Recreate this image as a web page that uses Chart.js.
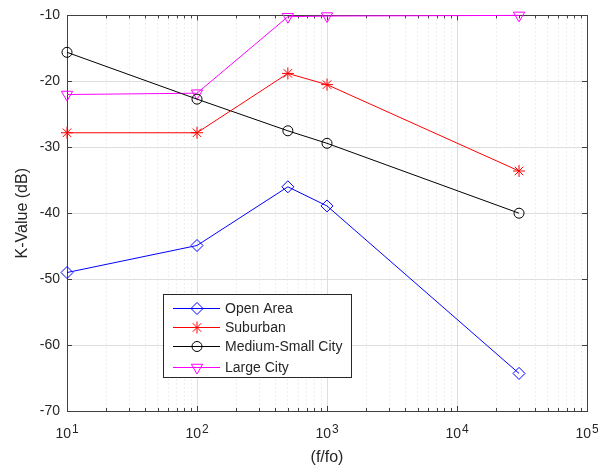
<!DOCTYPE html>
<html>
<head>
<meta charset="utf-8">
<script src="https://cdn.jsdelivr.net/npm/chart.js@4.4.1/dist/chart.umd.min.js"></script>
<style>
  html, body { margin: 0; padding: 0; background: #fff; }
  #wrap { width: 598px; height: 468px; position: relative; }
</style>
</head>
<body>
<div id="wrap"><canvas id="myChart"></canvas></div>
<script>
// datos
const freqs = [10, 100, 500, 1000, 30000];
const openArea = [-49, -44.9, -36, -38.9, -64.3];
const suburban = [-27.8, -27.8, -18.8, -20.5, -33.6];
const mediumSmallCity = [-15.6, -22.7, -27.5, -29.4, -40];
const largeCity = [-22, -21.8, -10.2, -10.1, -10];
const xExponents = [1, 2, 3, 4, 5];
const yTicks = [-70, -60, -50, -40, -30, -20, -10];

const FONT = "'Liberation Sans', Arial, Helvetica, sans-serif";
const TXT = '#262626';

// ticks del eje log: 1..9 x 10^n
const xTickValues = [];
xExponents.forEach(function (e, i) {
    const base = Math.pow(10, e);
    if (i === xExponents.length - 1) { xTickValues.push(base); return; }
    for (let s = 1; s <= 9; s++) xTickValues.push(s * base);
});
const isMajor = v => Math.abs(Math.log10(v) - Math.round(Math.log10(v))) < 1e-9;

const series = [
    { label: 'Open Area', data: openArea, color: '#0000ff', style: 'rectRot', radius: 6, rot: 0 },
    { label: 'Suburban', data: suburban, color: '#ff0000', style: 'star', radius: 6, rot: 0 },
    { label: 'Medium-Small City', data: mediumSmallCity, color: '#000000', style: 'circle', radius: 5, rot: 0 },
    { label: 'Large City', data: largeCity, color: '#ff00ff', style: 'triangle', radius: 6.5, rot: 180 }
];

// marco, marcas interiores, etiquetas 10^n y leyenda
const framePlugin = {
    id: 'framePlugin',
    beforeDatasetsDraw(chart) {
        const { ctx, chartArea: a, scales } = chart;
        ctx.save();
        ctx.strokeStyle = '#404040';
        ctx.lineWidth = 1;
        ctx.strokeRect(Math.round(a.left) + 0.5, Math.round(a.top) + 0.5,
            Math.round(a.right - a.left), Math.round(a.bottom - a.top));
        ctx.beginPath();
        xTickValues.forEach(function (v) {
            const x = Math.round(scales.x.getPixelForValue(v)) + 0.5;
            const len = isMajor(v) ? 5 : 3;
            ctx.moveTo(x, a.bottom); ctx.lineTo(x, a.bottom - len);
            ctx.moveTo(x, a.top); ctx.lineTo(x, a.top + len);
        });
        yTicks.forEach(function (v) {
            const y = Math.round(scales.y.getPixelForValue(v)) + 0.5;
            ctx.moveTo(a.left, y); ctx.lineTo(a.left + 5, y);
            ctx.moveTo(a.right, y); ctx.lineTo(a.right - 5, y);
        });
        ctx.stroke();
        ctx.restore();
    },
    afterDraw(chart) {
        const { ctx, chartArea: a, scales } = chart;
        ctx.save();
        // etiquetas del eje x con exponente
        ctx.fillStyle = TXT;
        ctx.textBaseline = 'alphabetic';
        ctx.textAlign = 'left';
        xExponents.forEach(function (e) {
            const x = scales.x.getPixelForValue(Math.pow(10, e));
            ctx.font = '14px ' + FONT;
            const w1 = ctx.measureText('10').width;
            ctx.font = '12px ' + FONT;
            const w2 = ctx.measureText(String(e)).width;
            const x0 = x - (w1 + w2 + 1) / 2;
            ctx.font = '14px ' + FONT;
            ctx.fillText('10', x0, a.bottom + 27);
            ctx.font = '12px ' + FONT;
            ctx.fillText(String(e), x0 + w1 + 1, a.bottom + 22);
        });

        // leyenda
        const lx = 163, ly = 294, lw = 188, lh = 83;
        ctx.fillStyle = '#ffffff';
        ctx.fillRect(lx, ly, lw, lh);
        ctx.strokeStyle = '#262626';
        ctx.lineWidth = 1;
        ctx.strokeRect(lx + 0.5, ly + 0.5, lw, lh);
        const rows = [308, 327, 346, 367];
        series.forEach(function (s, i) {
            const y = rows[i];
            ctx.strokeStyle = s.color;
            ctx.lineWidth = 1;
            ctx.beginPath();
            ctx.moveTo(173, y + 0.5); ctx.lineTo(220, y + 0.5);
            ctx.stroke();
            ctx.fillStyle = 'rgba(0,0,0,0)';
            Chart.helpers.drawPoint(ctx, {
                pointStyle: s.style, radius: s.radius, rotation: s.rot, borderWidth: 1
            }, 197, y + 0.5);
            ctx.fillStyle = TXT;
            ctx.font = '14px ' + FONT;
            ctx.textAlign = 'left';
            ctx.textBaseline = 'middle';
            ctx.fillText(s.label, 225, y + 1);
        });
        ctx.restore();
    }
};

document.addEventListener('DOMContentLoaded', function () {
    const ctx = document.getElementById('myChart').getContext('2d');

    new Chart(ctx, {
        type: 'line',
        data: {
            datasets: series.map(function (s) {
                return {
                    label: s.label,
                    data: freqs.map((f, i) => ({ x: f, y: s.data[i] })),
                    borderColor: s.color,
                    backgroundColor: 'rgba(0,0,0,0)',
                    borderWidth: 1,
                    pointStyle: s.style,
                    pointRadius: s.radius,
                    pointRotation: s.rot,
                    pointBorderColor: s.color,
                    pointBackgroundColor: 'rgba(0,0,0,0)',
                    pointBorderWidth: 1,
                    fill: false,
                    tension: 0,
                    clip: false
                };
            })
        },
        plugins: [framePlugin],
        options: {
            responsive: true,
            maintainAspectRatio: false,
            animation: false,
            layout: { padding: { left: 0, top: 11, right: 11, bottom: 0 } },
            plugins: {
                legend: { display: false },
                tooltip: { enabled: false }
            },
            scales: {
                x: {
                    type: 'logarithmic',
                    min: 10,
                    max: 100000,
                    afterBuildTicks: function (scale) {
                        scale.ticks = xTickValues.map(v => ({ value: v, major: isMajor(v) }));
                    },
                    afterFit: function (scale) { scale.height = 57; },
                    ticks: { autoSkip: false, callback: () => '', maxRotation: 0 },
                    grid: {
                        drawTicks: false,
                        color: '#dedede',
                        lineWidth: 1
                    },
                    border: {
                        display: false,
                        dash: function (c) {
                            return (c.tick && !isMajor(c.tick.value)) ? [1, 3] : [];
                        }
                    },
                    title: {
                        display: true,
                        text: '(f/fo)',
                        color: TXT,
                        font: { family: FONT, size: 16 },
                        padding: { top: 0, bottom: 1 }
                    }
                },
                y: {
                    min: -70,
                    max: -10,
                    afterBuildTicks: function (scale) {
                        scale.ticks = yTicks.map(v => ({ value: v }));
                    },
                    afterFit: function (scale) { scale.width = 67; },
                    ticks: {
                        color: TXT,
                        padding: 7,
                        font: { family: FONT, size: 14 }
                    },
                    grid: {
                        drawTicks: false,
                        color: '#dedede',
                        lineWidth: 1
                    },
                    border: { display: false },
                    title: {
                        display: true,
                        text: 'K-Value (dB)',
                        color: TXT,
                        font: { family: FONT, size: 16 },
                        padding: { top: 13, bottom: 0 }
                    }
                }
            }
        }
    });
});
</script>
</body>
</html>
